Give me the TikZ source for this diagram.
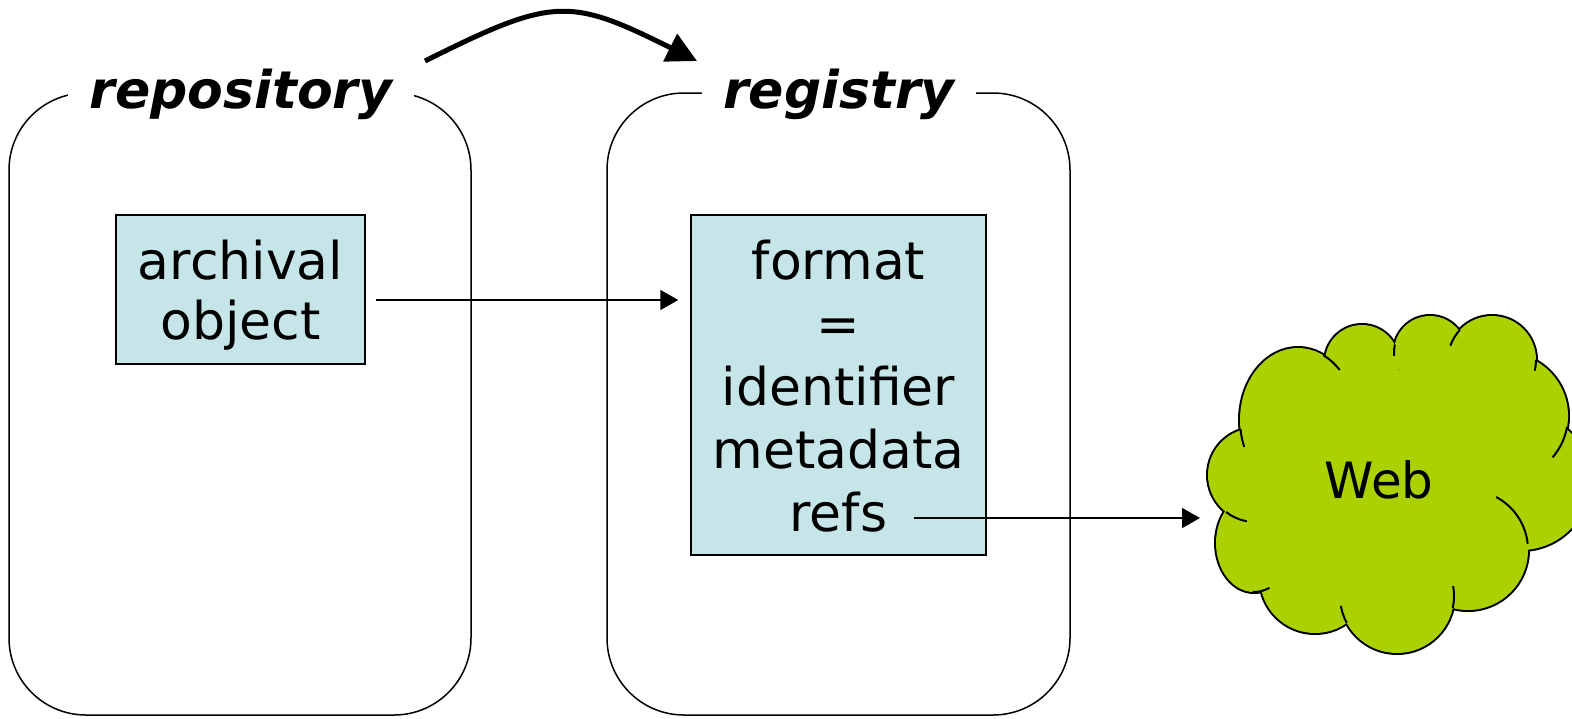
\documentclass[tikz,border=0pt]{standalone}
\usepackage{fontspec}
\setmainfont{DejaVu Sans}
\usetikzlibrary{arrows.meta}
\definecolor{cardfill}{HTML}{C6E5E8}
\definecolor{webgreen}{HTML}{AAD200}
\begin{document}
\begin{tikzpicture}[x=0.5pt,y=-0.5pt,
  frame/.style={draw,line width=0.75pt,rounded corners=38.5pt},
  heading/.style={fill=white,anchor=base,inner xsep=0pt,inner ysep=3pt,
    font=\fontsize{26}{31.5}\selectfont\bfseries\itshape},
  card/.style={draw,line width=0.75pt,fill=cardfill,inner sep=0pt},
  cardtext/.style={align=center,inner sep=0pt,font=\fontsize{26}{31.5}\selectfont},
  link/.style={line width=0.75pt,-{Triangle[length=9pt,width=10pt]}},
  bigarrow/.style={line width=2.5pt,-{Triangle[length=15pt,width=15pt]}},
  puffline/.style={line width=1pt}]
\useasboundingbox (0,0) rectangle (1572,718);

% the two containers with their headings
\draw[frame] (9,93) rectangle (471,715);
\draw[frame] (607,93) rectangle (1070,715);
\node[heading,minimum width=173pt] (repo) at (241,108) {repository};
\node[heading,minimum width=137pt] (reg) at (839,108) {registry};

% boxes
\node[card,minimum width=124.5pt,minimum height=74.5pt] (obj) at (240.5,289.5) {};
\node[cardtext,font=\fontsize{26}{30}\selectfont] (objtext) at (240.5,295.4) {archival\\object};
\node[card,minimum width=147.5pt,minimum height=170pt] (fmt) at (838.5,385) {};
\node[cardtext] (fmttext) at (838.5,386) {format\\=\\identifier\\metadata\\refs};

% cloud: outline of the puffs, then their fill
\foreach \cx/\cy/\r in {1362/362/37,1430/352/36,1492/360/44,1505/416/63,1521/481/69,
                         1468/550/60,1397/596/57,1315/578/55,1255/475/47}
  \draw[line width=2pt] (\cx,\cy) circle[radius=\r];
\draw[line width=2pt] (1298,420) ellipse[x radius=58,y radius=72];
\draw[line width=2pt] (1254,543) ellipse[x radius=38,y radius=49];
\foreach \cx/\cy/\r in {1362/362/37,1430/352/36,1492/360/44,1505/416/63,1521/481/69,
                         1468/550/60,1397/596/57,1315/578/55,1255/475/47}
  \fill[webgreen] (\cx,\cy) circle[radius=\r];
\fill[webgreen] (1298,420) ellipse[x radius=58,y radius=72];
\fill[webgreen] (1254,543) ellipse[x radius=38,y radius=49];
\fill[webgreen] (1390,480) ellipse[x radius=130,y radius=110];
\fill[webgreen] (1440,395) circle[radius=35];
% inner puff strokes
\draw[puffline] (1298,420) ++(-64:58 and 72) arc[start angle=-64,end angle=-44,x radius=58,y radius=72];
\draw[puffline] (1298,420) ++(173:58 and 72) arc[start angle=173,end angle=158,x radius=58,y radius=72];
\draw[puffline] (1255,475) ++(128:47) arc[start angle=128,end angle=100,radius=47];
\draw[puffline] (1254,543) ++(92:38 and 49) arc[start angle=92,end angle=66,x radius=38,y radius=49];
\draw[puffline] (1397,596) ++(152:57) arc[start angle=152,end angle=170,radius=57];
\draw[puffline] (1397,596) ++(12:57) arc[start angle=12,end angle=-10,radius=57];
\draw[puffline] (1468,550) ++(-6:60) arc[start angle=-6,end angle=-62,radius=60];
\draw[puffline] (1505,416) ++(10:63) arc[start angle=10,end angle=41,radius=63];
\draw[puffline] (1492,360) ++(0:44) arc[start angle=0,end angle=14,radius=44];
\draw[puffline] (1492,360) ++(223:44) arc[start angle=223,end angle=199,radius=44];
\draw[puffline] (1430,352) ++(192:36) arc[start angle=192,end angle=174,radius=36];
\node[font=\fontsize{25}{30}\selectfont] (web) at (1379,480) {Web};

% connectors
\coordinate (a1) at ([shift={(10,10.5)}]obj.east);
\draw[link] (a1) -- ([xshift=-6pt]a1 -| fmt.west);
\coordinate (refsend) at (914,518);
\coordinate (webin) at (1200,518);
\draw[link] (refsend) -- (webin);
\coordinate (c1) at (425,61);
\coordinate (c2) at (697,61);
\draw[bigarrow] (c1) .. controls (553,-3) and (569,-3) .. (c2);
\end{tikzpicture}
\end{document}
